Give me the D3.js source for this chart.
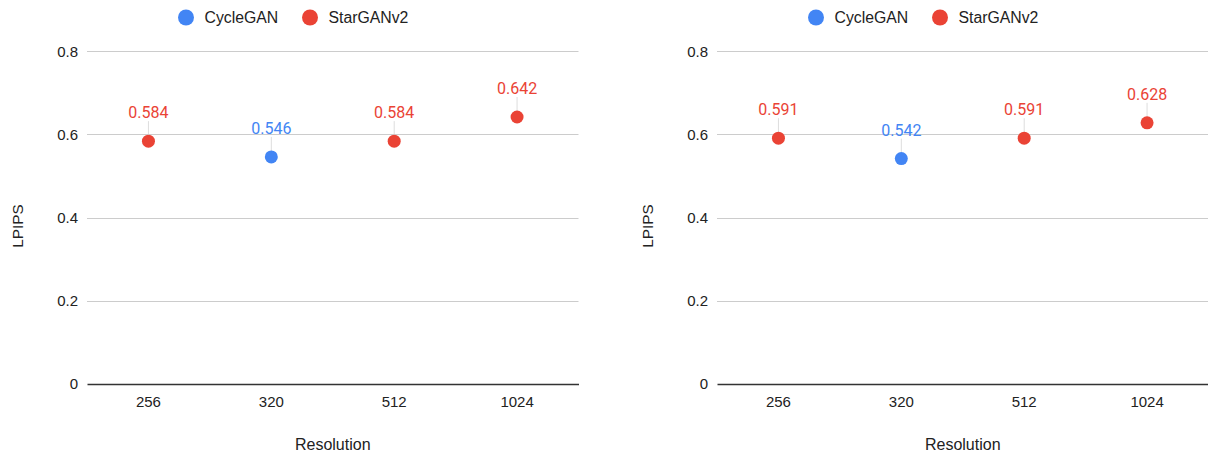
<!DOCTYPE html>
<html>
<head>
<meta charset="utf-8">
<script src="https://cdn.jsdelivr.net/npm/d3@7"></script>
<style>
  body { margin: 0; background: #fff; }
  svg { display: block; }
  text { font-family: Arial, "Liberation Sans", sans-serif; fill: #222; }
  .value-label { font-family: Roboto, sans-serif; font-size: 16px; }
</style>
</head>
<body>
<svg id="chart"></svg>
<script>
// chart data
const resolutions = ["256", "320", "512", "1024"];
const pointModels = ["StarGANv2", "CycleGAN", "StarGANv2", "StarGANv2"];
const lpipsLeft = [0.584, 0.546, 0.584, 0.642];
const lpipsRight = [0.591, 0.542, 0.591, 0.628];
const seriesNames = ["CycleGAN", "StarGANv2"];
const seriesColors = ["#4285f4", "#ea4335"];
const yTicks = [0, 0.2, 0.4, 0.6, 0.8];

const svgWidth = 1208, svgHeight = 454;
const svg = d3.select("#chart").attr("width", svgWidth).attr("height", svgHeight);

const color = d3.scaleOrdinal().domain(seriesNames).range(seriesColors);

function drawPanel(offsetX, values) {
    const left = 87, right = 578.5, top = 51.3, bottom = 384;
    const g = svg.append("g").attr("transform", `translate(${offsetX},0)`);

    const x = d3.scaleBand().domain(resolutions).range([left, right]).padding(0);
    const y = d3.scaleLinear().domain([0, 0.8]).range([bottom, top]);

    // legend
    const legendX = [186, 310];
    seriesNames.forEach((name, i) => {
        g.append("circle")
            .attr("cx", legendX[i]).attr("cy", 17.5).attr("r", 8)
            .attr("fill", color(name));
        g.append("text")
            .attr("x", legendX[i] + 18.5).attr("y", 22.5)
            .attr("font-size", "15.8px")
            .text(name);
    });

    // gridlines
    g.append("g").selectAll("line")
        .data(yTicks.filter(t => t > 0))
        .join("line")
        .attr("x1", left).attr("x2", right)
        .attr("y1", d => Math.round(y(d)) + 0.5).attr("y2", d => Math.round(y(d)) + 0.5)
        .attr("stroke", "#cccccc");

    // y axis
    const yAxis = g.append("g")
        .attr("transform", `translate(${left},0)`)
        .call(d3.axisLeft(y).tickValues(yTicks).tickFormat(d => String(d)).tickSize(0).tickPadding(9));
    yAxis.select(".domain").remove();
    yAxis.selectAll("text").attr("font-size", "15px").attr("font-family", null).attr("fill", "#222");

    // x axis
    const xAxis = g.append("g")
        .attr("transform", `translate(0,${bottom})`)
        .call(d3.axisBottom(x).tickSize(0).tickPadding(12));
    xAxis.select(".domain").attr("stroke", "#333").attr("stroke-width", 1.3);
    xAxis.selectAll("text").attr("font-size", "15px").attr("font-family", null).attr("fill", "#222");

    // axis titles
    g.append("text")
        .attr("transform", "rotate(-90)")
        .attr("x", -226).attr("y", 23)
        .attr("text-anchor", "middle")
        .attr("font-size", "15.3px")
        .text("LPIPS");
    g.append("text")
        .attr("x", (left + right) / 2).attr("y", 450)
        .attr("text-anchor", "middle")
        .attr("font-size", "16px")
        .text("Resolution");

    const pts = resolutions.map((r, i) => ({ r, v: values[i], m: pointModels[i] }));
    const cx = d => x(d.r) + x.bandwidth() / 2;

    // leader lines
    g.append("g").selectAll("line")
        .data(pts)
        .join("line")
        .attr("x1", cx).attr("x2", cx)
        .attr("y1", d => y(d.v) - 6).attr("y2", d => y(d.v) - 20)
        .attr("stroke", "#dddddd");

    // points
    g.append("g").selectAll("circle")
        .data(pts)
        .join("circle")
        .attr("cx", cx).attr("cy", d => y(d.v)).attr("r", 6.5)
        .attr("fill", d => color(d.m));

    // value labels
    g.append("g").selectAll("text")
        .data(pts)
        .join("text")
        .attr("class", "value-label")
        .attr("x", cx).attr("y", d => y(d.v) - 23)
        .attr("text-anchor", "middle")
        .style("fill", d => color(d.m))
        .text(d => d.v.toFixed(3));
}

drawPanel(0, lpipsLeft);
drawPanel(630, lpipsRight);
</script>
</body>
</html>
